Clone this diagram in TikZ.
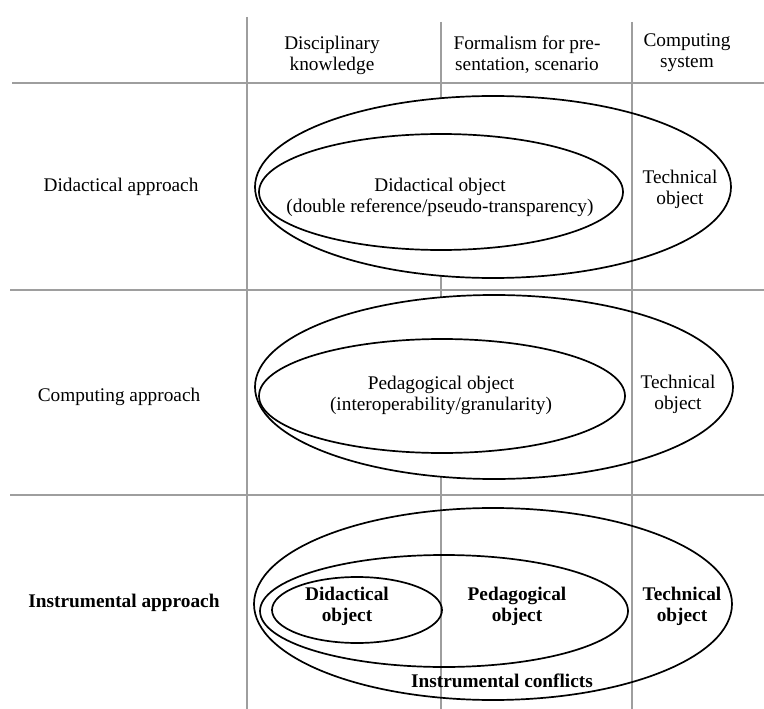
\documentclass[tikz,border=0pt]{standalone}
\usepackage{fontspec}
\setmainfont{Liberation Serif}
\begin{document}
\begin{tikzpicture}[x=1pt,y=-1pt,
  grid/.style={draw=black!38,line width=2.6pt},
  oval/.style={draw=black,line width=1.7pt},
  txt/.style={font=\fontsize{19.3}{21}\selectfont,align=center,inner sep=0pt},
  txtb/.style={font=\fontsize{19.3}{21}\selectfont\bfseries,align=center,inner sep=0pt}]
\useasboundingbox (0,0) rectangle (764,709);
% grid lines
\draw[grid] (441,22) -- (441,709);
\draw[grid] (12,83) -- (764,83);
\draw[grid] (10,290) -- (764,290);
\draw[grid] (10,495) -- (764,495);
\draw[grid] (247,17) -- (247,709);
% white fill hides middle line in rows 1 and 2
\fill[white] (493,187) ellipse (238 and 91);
\fill[white] (494,387) ellipse (239 and 92);
\draw[grid] (632,22) -- (632,709);
% ellipses
\draw[oval] (493,187) ellipse (238 and 91);
\draw[oval] (441,192) ellipse (182 and 58);
\draw[oval] (494,387) ellipse (239 and 92);
\draw[oval] (442,396) ellipse (183 and 57);
\draw[oval] (493,604) ellipse (239 and 96);
\draw[oval] (444,611) ellipse (184 and 56);
\draw[oval] (357,610) ellipse (85 and 33);
% headers
\node[txt] (h1) at (332,55) {Disciplinary\\knowledge};
\node[txt] (h2) at (527,55) {Formalism for pre-\\sentation, scenario};
\node[txt] (h3) at (687,53) {Computing\\system};
% row labels
\node[txt] (r1) at (121,187) {Didactical approach};
\node[txt] (r2) at (119,397) {Computing approach};
\node[txtb] (r3) at (124,603) {Instrumental approach};
% row 1
\node[txt] (d1) at (440,197) {Didactical object\\(double reference/pseudo-transparency)};
\node[txt] (t1) at (680,189) {Technical\\object};
% row 2
\node[txt] (p2) at (441,395) {Pedagogical object\\(interoperability/granularity)};
\node[txt] (t2) at (678,394) {Technical\\object};
% row 3
\node[txtb] (d3) at (347,606) {Didactical\\object};
\node[txtb] (p3) at (517,606) {Pedagogical\\object};
\node[txtb] (t3) at (682,606) {Technical\\object};
\node[txtb] (c3) at (502,681) {Instrumental conflicts};
\end{tikzpicture}
\end{document}
